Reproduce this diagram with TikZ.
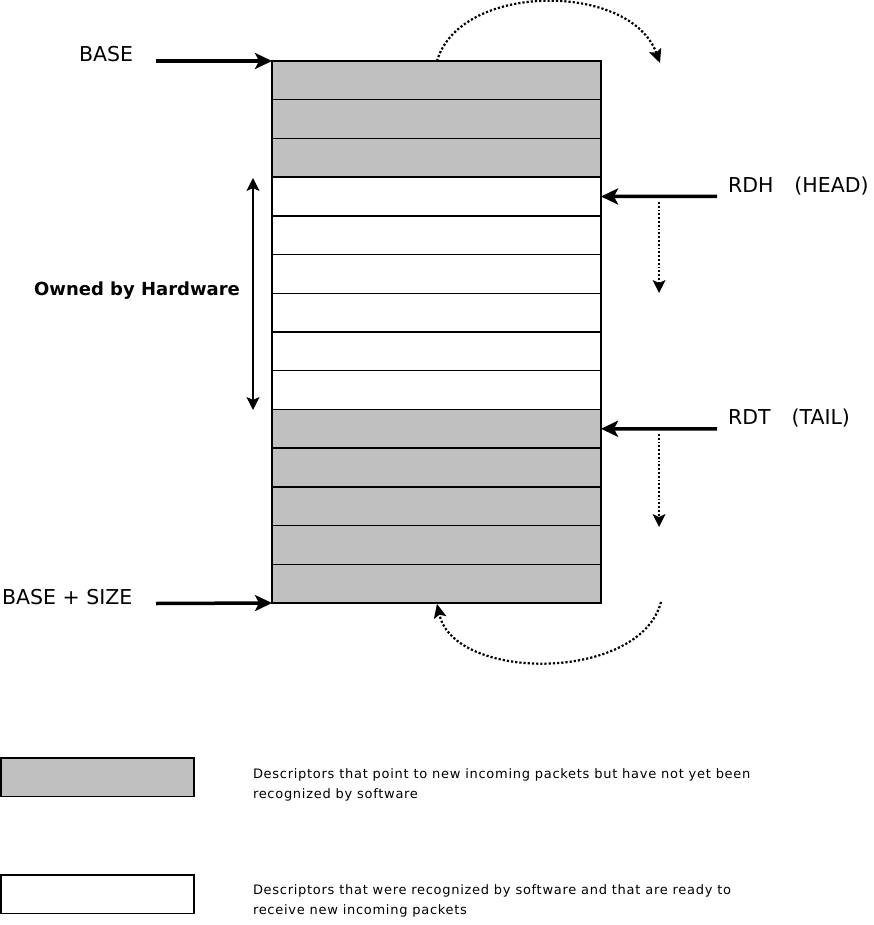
\documentclass[tikz,border=0pt]{standalone}
\usepackage{fontspec}
\setmainfont{DejaVu Sans}
\newfontfamily\legfont[LetterSpace=5.5]{DejaVu Sans}
\usetikzlibrary{arrows.meta}
\definecolor{fillgray}{RGB}{192,192,192}
\tikzset{
  cell/.style={draw=black, line width=1.3pt, rectangle, inner sep=0pt, outer sep=0pt,
    minimum width=329pt, minimum height=38.714pt},
  legbox/.style={draw=black, line width=1.5pt, rectangle, inner sep=0pt, outer sep=0pt,
    minimum width=193pt, minimum height=38.5pt},
  bigarrow/.style={line width=3.5pt, -{Stealth[length=17pt,width=16pt,inset=4pt]}},
  dblarrow/.style={line width=1.5pt, {Stealth[length=13pt,width=13pt,inset=3pt]}-{Stealth[length=13pt,width=13pt,inset=3pt]}},
  vdot/.style={line width=1.8pt, dash pattern=on 1.8pt off 2pt, -{Stealth[length=13pt,width=13pt,inset=3pt,line width=0pt]}},
  arcdot/.style={line width=2.2pt, dash pattern=on 2.2pt off 2pt, -{Stealth[length=14pt,width=13pt,inset=3pt,line width=0pt]}},
  lbl/.style={inner sep=0pt, outer sep=0pt, anchor=base west, font=\fontsize{20.5}{24}\selectfont},
  legtxt/.style={inner sep=0pt, outer sep=0pt, anchor=base west, font=\legfont\fontsize{13}{15}\selectfont}
}
\begin{document}
\begin{tikzpicture}[x=1pt,y=-1pt]
\useasboundingbox[fill=white] (0,0) rectangle (873,925);
% stack of descriptors
\foreach \i/\f in {1/fillgray,2/fillgray,3/fillgray,4/white,5/white,6/white,7/white,8/white,9/white,10/fillgray,11/fillgray,12/fillgray,13/fillgray,14/fillgray}
  \node[cell, fill=\f] (r\i) at (436.5, {61+(\i-0.5)*38.714}) {};

% BASE
\node[lbl] (base) at (79,62) {BASE};
\coordinate (basestart) at (156,61);
\draw[bigarrow] (basestart) -- (r1.north west);

% BASE + SIZE
\node[lbl] (basesize) at (2,604) {BASE + SIZE};
\coordinate (bsstart) at (156,603.5);
\draw[bigarrow] (bsstart) -- (r14.south west);

% RDH
\node[lbl] (rdh) at (728,193) {RDH\hspace{21pt}(HEAD)};
\coordinate (rdhstart) at (717,196.5);
\draw[bigarrow] (rdhstart) -- (r4.east);
\coordinate (rdhdotA) at (659,202);
\coordinate (rdhdotB) at (659,293);
\draw[vdot] (rdhdotA) -- (rdhdotB);

% RDT
\node[lbl] (rdt) at (728,424) {RDT\hspace{21pt}(TAIL)};
\coordinate (rdtstart) at (717,428.8);
\draw[bigarrow] (rdtstart) -- (r10.east);
\coordinate (rdtdotA) at (659,434);
\coordinate (rdtdotB) at (659,527);
\draw[vdot] (rdtdotA) -- (rdtdotB);

% Owned by hardware
\coordinate (hwtop) at (253,178);
\coordinate (hwbot) at (253,410);
\draw[dblarrow] (hwtop) -- (hwbot);
\node[inner sep=0pt, anchor=base, font=\bfseries\fontsize{18}{22}\selectfont] (owned) at (137,295) {Owned by Hardware};

% wrap-around arcs
\coordinate (arcTs) at (437,61);
\coordinate (arcTe) at (660,63);
\draw[arcdot] (arcTs) .. controls (460,-18) and (630,-18) .. (arcTe);
\coordinate (arcBs) at (661,602);
\coordinate (arcBe) at (437,604);
\draw[arcdot] (arcBs) .. controls (640,682) and (455,682) .. (arcBe);

% legend
\node[legbox, fill=fillgray, anchor=north west] (leggray) at (1,758) {};
\node[legbox, fill=white, anchor=north west] (legwhite) at (1,875) {};
\node[legtxt] (lg1) at (253,778.5) {Descriptors that point to new incoming packets but have not yet been};
\node[legtxt] (lg2) at (253,798.5) {recognized by software};
\node[legtxt] (lw1) at (253,894.5) {Descriptors that were recognized by software and that are ready to};
\node[legtxt] (lw2) at (253,914.5) {receive new incoming packets};
\end{tikzpicture}
\end{document}
